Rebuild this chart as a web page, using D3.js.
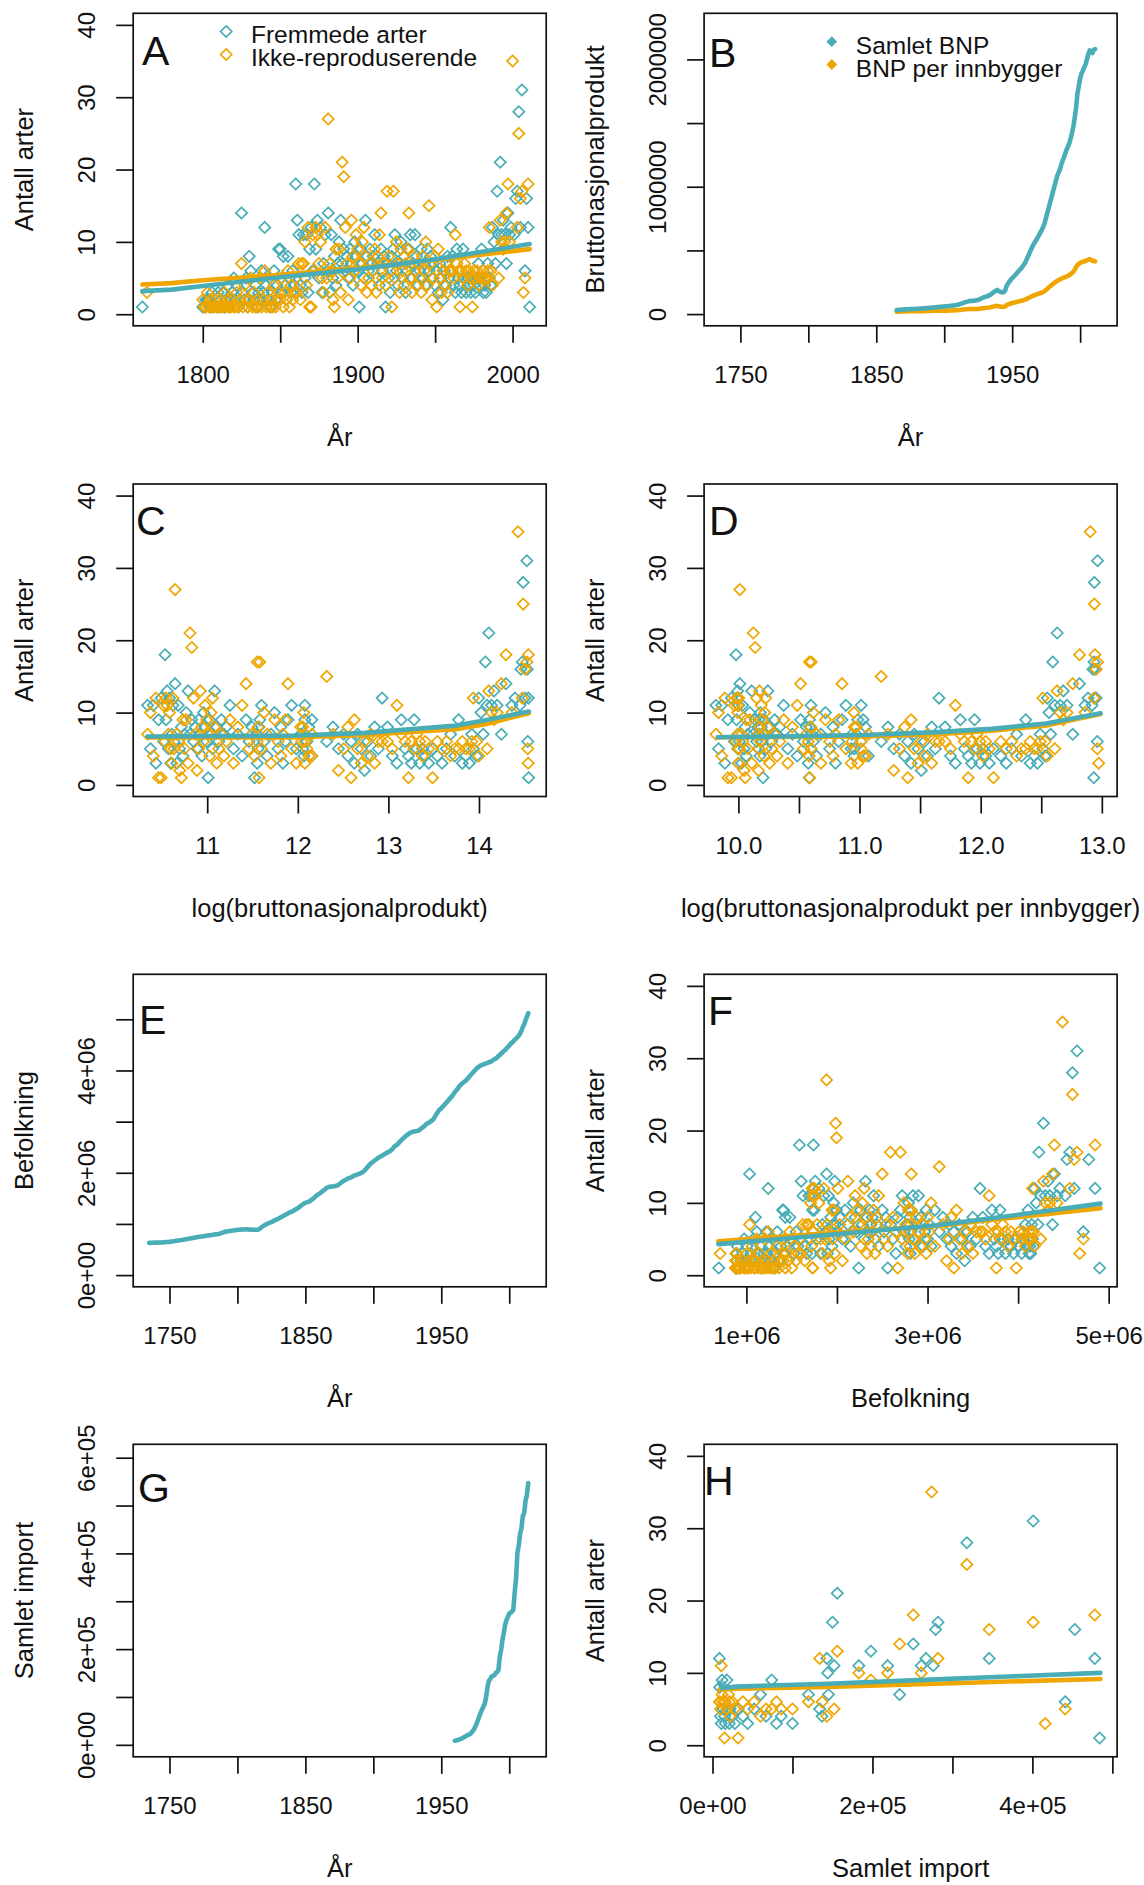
<!DOCTYPE html>
<html>
<head>
<meta charset="utf-8">
<script src="https://cdnjs.cloudflare.com/ajax/libs/d3/7.8.5/d3.min.js"></script>
<style>
  body { margin: 0; background: #fff; }
  svg { display: block; font-family: "Liberation Sans", Arial, sans-serif; }
  text { fill: #111; }
</style>
</head>
<body>
<svg id="fig" width="1144" height="1885"></svg>
<script>
// ---- observations: number of species per year ----
var tidligeAar = [1761, 1764];
var tidligeFremmede = [1, null];
var tidligeIkke = [null, 3];

var startAar = 1800; // fremmede / ikkeRepr run 1800..2011
var fremmede = [
  1,1,2,2,2,1,3,1,2,1, 3,1,2,3,1,2,4,1,2,3, 5,2,4,1,2,14,3,2,5,1, 8,6,3,2,4,1,3,2,6,3,
  12,4,2,5,1,3,6,2,4,9, 9,3,8,4,2,8,5,3,6,4, 18,13,11,4,3,11,5,11,3,9, 12,6,18,9,13,5,12,3,7,11,
  6,14,3,11,5,8,4,7,10,13, 7,9,6,8,5,9,7,4,10,8, 6,1,9,7,5,13,8,6,9,7, 8,11,5,7,4,9,6,8,1,7,
  5,3,8,9,11,6,4,7,10,5, 8,3,6,9,11,5,7,11,8,4, 6,9,5,7,4,9,6,8,5,7, 4,6,3,7,5,2,6,4,8,5,
  12,8,4,3,9,5,4,3,9,5, 3,5,4,3,5,4,3,5,7,4, 9,3,4,3,7,5,4,12,10,7,
  17,11,21,11,13,11,7,14,11,12, null,11,16,17,28,12,31,null,6,16, 12,1
];
var ikkeRepr = [
  2,1,1,3,1,2,1,1,2,1, 1,2,1,1,3,1,2,1,1,2, 1,1,3,1,2,7,1,4,2,1, 2,5,1,3,1,2,1,5,1,2,
  6,1,3,1,2,1,4,1,2,3, 2,5,1,3,2,6,1,4,2,3, 5,3,7,2,7,7,10,4,12,1, 1,11,6,12,11,7,10,5,3,12,
  5,27,7,6,2,1,9,5,9,3, 21,19,12,7,2,5,13,8,6,11, 9,7,4,10,12,8,3,5,7,4, 6,9,3,8,11,14,5,7,4,17,
  8,6,1,17,5,10,7,3,9,6, 4,7,9,14,5,3,8,6,4,7, 5,3,8,6,10,4,15,7,2,5, 8,1,9,5,3,6,4,7,3,6,
  6,6,5,11,7,6,1,6,5,7, 6,4,6,5,1,6,5,6,4,5, 5,6,5,5,6,12,6,4,null,null,
  null,5,13,10,9,10,14,18,10,null, 35,null,null,12,25,16,17,3,5,null, 18,null
];

// ---- yearly background series ----
var befStart = 1735; // befolkning, millioner
var befolkning = [
  0.630,0.630,0.632,0.632,0.634,
  0.634,0.635,0.636,0.636,0.638,0.640,0.642,0.644,0.646,0.648,
  0.650,0.654,0.658,0.662,0.666,0.670,0.674,0.678,0.682,0.686,
  0.690,0.695,0.700,0.705,0.710,0.715,0.720,0.725,0.730,0.735,
  0.740,0.744,0.748,0.752,0.756,0.760,0.764,0.768,0.772,0.776,
  0.780,0.784,0.788,0.792,0.796,0.800,0.804,0.810,0.820,0.830,
  0.840,0.845,0.850,0.855,0.860,0.864,0.868,0.872,0.876,0.880,
  0.883,0.885,0.888,0.890,0.892,0.892,0.893,0.893,0.890,0.888,
  0.888,0.887,0.887,0.886,0.886,0.887,0.900,0.920,0.940,0.960,
  0.975,0.990,1.005,1.015,1.025,1.035,1.050,1.065,1.078,1.090,
  1.100,1.115,1.130,1.145,1.160,1.175,1.190,1.205,1.220,1.230,
  1.240,1.255,1.270,1.285,1.300,1.320,1.340,1.360,1.380,1.400,
  1.410,1.420,1.430,1.440,1.460,1.480,1.500,1.525,1.550,1.570,
  1.585,1.605,1.625,1.645,1.665,1.690,1.710,1.720,1.725,1.730,
  1.732,1.736,1.740,1.750,1.760,1.780,1.800,1.820,1.840,1.855,
  1.870,1.885,1.895,1.905,1.915,1.930,1.945,1.955,1.965,1.975,
  1.985,1.995,2.010,2.030,2.060,2.090,2.120,2.150,2.180,2.200,
  2.220,2.240,2.260,2.280,2.300,2.315,2.330,2.345,2.360,2.375,
  2.390,2.405,2.420,2.440,2.460,2.500,2.520,2.540,2.560,2.590,
  2.620,2.650,2.670,2.700,2.720,2.740,2.760,2.780,2.790,2.800,
  2.805,2.810,2.815,2.820,2.840,2.860,2.880,2.900,2.925,2.950,
  2.970,2.985,3.000,3.020,3.040,3.080,3.130,3.170,3.210,3.240,
  3.260,3.290,3.320,3.350,3.380,3.410,3.440,3.470,3.500,3.540,
  3.580,3.610,3.640,3.680,3.710,3.740,3.760,3.780,3.800,3.830,
  3.860,3.890,3.920,3.950,3.980,4.010,4.040,4.060,4.080,4.100,
  4.110,4.120,4.130,4.140,4.150,4.160,4.170,4.180,4.200,4.220,
  4.230,4.250,4.280,4.300,4.330,4.350,4.380,4.400,4.430,4.460,
  4.490,4.520,4.540,4.570,4.600,4.620,4.650,4.680,4.720,4.780,
  4.850,4.900,4.980,5.050,5.120
];

var bnpStart = 1865; // bruttonasjonalprodukt, 1000 mill. kr
var bnp = [
  31,32,33,34,35,
  36,37,37.6,38,38.5,39,39.5,40,40.5,41,
  41.5,42,42.8,43.5,44.2,45,45.8,46.6,47.5,48.5,
  49.5,50.5,51.5,52.5,53.5,54.5,55.5,56.5,57.5,58.5,
  59.5,60.5,61.5,62.5,63.5,65,66.5,68,70,72,
  74,77,80,84,88,92,95,98,101,104,
  105,104,106,107,109,112,116,121,126,131,
  135,138,142,146,152,160,168,176,184,190,
  180,176,172,170,174,190,224,240,255,270,
  283,293,304,315,328,340,352,364,380,396,
  413,438,462,486,510,532,552,570,588,605,
  625,645,665,690,720,760,800,840,880,920,
  960,1000,1040,1080,1110,1130,1170,1200,1230,1260,
  1290,1315,1340,1380,1420,1470,1540,1620,1730,1790,
  1850,1890,1910,1940,1960,2000,2040,2070,2060,2050,
  2075,2080
];
var bnpPerInnb = [ // 1000 kr, 1865..2011
  18.3,18.7,19.2,19.7,20.2,
  20.8,21.3,21.6,21.7,21.9,21.9,21.9,22.0,22.0,22.1,
  22.2,22.3,22.6,22.8,23.1,23.3,23.5,23.8,24.2,24.6,
  24.9,25.3,25.6,25.9,26.0,26.1,26.2,26.3,26.4,26.6,
  26.8,27.0,27.2,27.4,27.6,28.1,28.5,29.0,29.7,30.3,
  31.0,32.0,33.1,34.4,35.8,36.8,37.7,38.6,39.5,40.2,
  40.1,39.2,39.7,39.6,40.1,40.9,42.0,43.5,45.2,46.8,
  48.1,49.1,50.4,51.8,53.5,55.9,58.3,60.7,62.9,64.4,
  60.6,59.0,57.3,56.3,57.2,61.7,71.6,75.7,79.4,83.3,
  86.8,89.1,91.6,94.0,97.0,99.7,102.3,104.9,108.6,111.9,
  115.4,121.3,126.9,132.1,137.5,142.2,146.8,150.8,154.7,158.0,
  161.9,165.8,169.6,174.7,180.9,192,201,210,219,228,
  236,245,253,260,266,272,277,282,286,290,
  295,300,306,314,322,332,348,368,385,395,
  402,408,411,415,416,422,427,431,426,419,
  418,414
];

var impStart = 1960; // samlet import, 1000 kr
var importSamlet = [
  8.7,9,10,11,12,13,15,16,18,20,
  21,22,25,28,32,38,44,52,60,67,
  74,80,86,100,120,134,137,143,144,145,
  150,152,156,183,198,219,234,251,261,267,
  274,276,279,282,318,346,401,416,441,453,
  478,484,510,522,547
];

// ---- fitted curves ----
var fitAarX = [1761, 1780, 1800, 1850, 1900, 1950, 2011];
var fitAarFremmede = [3.2, 3.4, 3.9, 5.1, 6.2, 7.6, 9.7];
var fitAarIkke = [4.1, 4.3, 4.7, 5.45, 6.4, 7.5, 9.0];

var fitBnpX = [10.34, 11.0, 11.93, 12.74, 13.34, 13.75, 14.07, 14.55];
var fitBnpFremmede = [6.7, 6.75, 6.8, 7.2, 7.8, 8.2, 8.95, 10.15];
var fitBnpIkke = [6.55, 6.55, 6.55, 6.9, 7.4, 7.7, 8.4, 9.9];

var fitPerX = [9.83, 10.5, 11.04, 11.64, 12.09, 12.54, 12.99];
var fitPerFremmede = [6.6, 6.75, 6.9, 7.3, 7.75, 8.5, 9.9];
var fitPerIkke = [6.6, 6.65, 6.7, 7.0, 7.5, 8.2, 9.8];

var fitBefX = [0.69, 1.89, 3.1, 3.9, 4.91];
var fitBefFremmede = [4.3, 5.55, 6.9, 8.2, 9.9];
var fitBefIkke = [4.7, 5.8, 6.8, 7.9, 9.25];

var fitImpX = [0.087, 0.12, 0.3, 1.44, 2.8, 3.7, 4.85];
var fitImpFremmede = [8.6, 7.9, 8.1, 8.5, 9.1, 9.5, 10.0];
var fitImpIkke = [7.7, 7.7, 7.8, 8.05, 8.5, 8.8, 9.15];

// ---- ticks ----
var antallTicks = [0, 10, 20, 30, 40];
var antallTekster = ["0", "10", "20", "30", "40"];
var aarTicksA = [1800, 1850, 1900, 1950, 2000];
var aarTeksterA = ["1800", "", "1900", "", "2000"];
var aarTicks = [1750, 1800, 1850, 1900, 1950, 2000];
var aarTekster = ["1750", "", "1850", "", "1950", ""];
var bnpYTicks = [0, 500000, 1000000, 1500000, 2000000];
var bnpYTekster = ["0", "", "1000000", "", "2000000"];
var logBnpTicks = [11, 12, 13, 14];
var logBnpTekster = ["11", "12", "13", "14"];
var logPerTicks = [10, 10.5, 11, 11.5, 12, 12.5, 13];
var logPerTekster = ["10.0", "", "11.0", "", "12.0", "", "13.0"];
var befYTicks = [0, 1e6, 2e6, 3e6, 4e6, 5e6];
var befYTekster = ["0e+00", "", "2e+06", "", "4e+06", ""];
var befXTicks = [1e6, 2e6, 3e6, 4e6, 5e6];
var befXTekster = ["1e+06", "", "3e+06", "", "5e+06"];
var impYTicks = [0, 1e5, 2e5, 3e5, 4e5, 5e5, 6e5];
var impYTekster = ["0e+00", "", "2e+05", "", "4e+05", "", "6e+05"];
var impXTicks = [0, 1e5, 2e5, 3e5, 4e5, 5e5];
var impXTekster = ["0e+00", "", "2e+05", "", "4e+05", ""];

var TEAL = "#48adb6", ORANSJE = "#efa600";
var W = 413, H = 312.5;
var VENSTRE = [133.2, 704.1];
var TOPP = [13.3, 484, 974.3, 1444.3];
var antallDomene = [-1.6, 41.6];
var aarDomene = [1723.3, 2027.2];
var PUNKT = 5.6;

var svg = d3.select("#fig");

function verdiFor(serie, start, aar) {
  var i = aar - start;
  return (i >= 0 && i < serie.length) ? serie[i] : null;
}

var obs = [];
tidligeAar.forEach(function(a, i) {
  obs.push({ aar: a, fremmede: tidligeFremmede[i], ikke: tidligeIkke[i] });
});
fremmede.forEach(function(v, i) {
  obs.push({ aar: startAar + i, fremmede: v, ikke: ikkeRepr[i] });
});

function diamant(s) {
  return "M0," + (-s) + "L" + s + ",0L0," + s + "L" + (-s) + ",0Z";
}

function lagPanel(p) {
  var g = svg.append("g");
  var left = VENSTRE[p.kol], top = TOPP[p.rad];
  var x = d3.scaleLinear().domain(p.xDomene).range([left, left + W]);
  var y = d3.scaleLinear().domain(p.yDomene).range([top + H, top]);

  var gx = g.append("g")
    .attr("transform", "translate(0," + (top + H) + ")")
    .call(d3.axisBottom(x).tickValues(p.xTicks).tickSize(17)
      .tickFormat(function(d, i) { return p.xTekster[i]; }));
  var gy = g.append("g")
    .attr("transform", "translate(" + left + ",0)")
    .call(d3.axisLeft(y).tickValues(p.yTicks).tickSize(17)
      .tickFormat(function(d, i) { return p.yTekster[i]; }));
  [gx, gy].forEach(function(a) {
    a.attr("font-size", null).attr("font-family", null);
    a.select(".domain").remove();
    a.selectAll(".tick line").attr("stroke", "#111").attr("stroke-width", 1.7);
    a.selectAll("text").style("font-size", "24px").attr("fill", "#111");
  });
  gx.selectAll("text").attr("y", 57).attr("dy", null);
  gy.selectAll("text").attr("transform", "rotate(-90)")
    .attr("x", 0).attr("y", -38).attr("dy", null).attr("text-anchor", "middle");

  g.append("text").attr("x", left + W / 2).attr("y", top + H + 120)
    .attr("text-anchor", "middle").style("font-size", "25.5px").text(p.xTittel);
  g.append("text")
    .attr("transform", "translate(" + (left - 100) + "," + (top + H / 2) + ") rotate(-90)")
    .attr("text-anchor", "middle").style("font-size", "25.5px").text(p.yTittel);

  g.append("text").attr("x", p.bokstavX).attr("y", p.bokstavY)
    .style("font-size", "41px").text(p.bokstav);

  var plot = g.append("g");
  if (p.punkter) {
    [["fremmede", TEAL], ["ikke", ORANSJE]].forEach(function(s) {
      var data = obs.filter(function(d) { return d[s[0]] != null && p.punkter(d) != null; });
      plot.selectAll(null).data(data).enter().append("path")
        .attr("d", diamant(PUNKT))
        .attr("transform", function(d) { return "translate(" + x(p.punkter(d)) + "," + y(d[s[0]]) + ")"; })
        .attr("fill", "none").attr("stroke", s[1]).attr("stroke-width", 1.7);
    });
  }
  var linje = d3.line().x(function(d) { return x(d[0]); }).y(function(d) { return y(d[1]); });
  p.linjer.forEach(function(l) {
    var pts = l.x.map(function(v, i) { return [v, l.y[i]]; })
      .filter(function(d) { return d[1] != null; });
    plot.append("path").attr("d", linje(pts)).attr("fill", "none")
      .attr("stroke", l.farge).attr("stroke-width", 4.6)
      .attr("stroke-linejoin", "round").attr("stroke-linecap", "round");
  });

  g.append("rect").attr("x", left).attr("y", top).attr("width", W).attr("height", H)
    .attr("fill", "none").attr("stroke", "#111").attr("stroke-width", 1.7);
  return { x: x, y: y };
}

function aarListe(start, serie) {
  return serie.map(function(v, i) { return start + i; });
}
function skaler(serie, f) {
  return serie.map(function(v) { return v * f; });
}

// A
lagPanel({
  kol: 0, rad: 0, xDomene: [1755.1, 2021.7], yDomene: antallDomene,
  xTicks: aarTicksA, xTekster: aarTeksterA, yTicks: antallTicks, yTekster: antallTekster,
  xTittel: "År", yTittel: "Antall arter", bokstav: "A", bokstavX: 142, bokstavY: 65,
  punkter: function(d) { return d.aar; },
  linjer: [
    { x: fitAarX, y: fitAarIkke, farge: ORANSJE },
    { x: fitAarX, y: fitAarFremmede, farge: TEAL }
  ]
});
var legA = svg.append("g");
[["Fremmede arter", TEAL, 31.5, 42.5], ["Ikke-reproduserende", ORANSJE, 54.5, 66]].forEach(function(l) {
  legA.append("path").attr("d", diamant(PUNKT)).attr("transform", "translate(226.2," + l[2] + ")")
    .attr("fill", "none").attr("stroke", l[1]).attr("stroke-width", 1.7);
  legA.append("text").attr("x", 251).attr("y", l[3]).style("font-size", "24.5px").text(l[0]);
});

// B
lagPanel({
  kol: 1, rad: 0, xDomene: aarDomene, yDomene: [-92000, 2362000],
  xTicks: aarTicks, xTekster: aarTekster, yTicks: bnpYTicks, yTekster: bnpYTekster,
  xTittel: "År", yTittel: "Bruttonasjonalprodukt", bokstav: "B", bokstavX: 709, bokstavY: 66.7,
  linjer: [
    { x: aarListe(bnpStart, bnpPerInnb), y: skaler(bnpPerInnb, 1000), farge: ORANSJE },
    { x: aarListe(bnpStart, bnp), y: skaler(bnp, 1000), farge: TEAL }
  ]
});
var legB = svg.append("g");
[["Samlet BNP", TEAL, 41.7, 53.5], ["BNP per innbygger", ORANSJE, 64.5, 77]].forEach(function(l) {
  legB.append("path").attr("d", diamant(5.4)).attr("transform", "translate(831.8," + l[2] + ")")
    .attr("fill", l[1]);
  legB.append("text").attr("x", 855.8).attr("y", l[3]).style("font-size", "24.5px").text(l[0]);
});

// C
lagPanel({
  kol: 0, rad: 1, xDomene: [10.183, 14.742], yDomene: antallDomene,
  xTicks: logBnpTicks, xTekster: logBnpTekster, yTicks: antallTicks, yTekster: antallTekster,
  xTittel: "log(bruttonasjonalprodukt)", yTittel: "Antall arter", bokstav: "C", bokstavX: 136, bokstavY: 535,
  punkter: function(d) {
    var v = verdiFor(bnp, bnpStart, d.aar);
    return v == null ? null : Math.log(v * 1000);
  },
  linjer: [
    { x: fitBnpX, y: fitBnpIkke, farge: ORANSJE },
    { x: fitBnpX, y: fitBnpFremmede, farge: TEAL }
  ]
});

// D
lagPanel({
  kol: 1, rad: 1, xDomene: [9.717, 13.126], yDomene: antallDomene,
  xTicks: logPerTicks, xTekster: logPerTekster, yTicks: antallTicks, yTekster: antallTekster,
  xTittel: "log(bruttonasjonalprodukt per innbygger)", yTittel: "Antall arter",
  bokstav: "D", bokstavX: 709, bokstavY: 535,
  punkter: function(d) {
    var v = verdiFor(bnpPerInnb, bnpStart, d.aar);
    return v == null ? null : Math.log(v * 1000);
  },
  linjer: [
    { x: fitPerX, y: fitPerIkke, farge: ORANSJE },
    { x: fitPerX, y: fitPerFremmede, farge: TEAL }
  ]
});

// E
lagPanel({
  kol: 0, rad: 2, xDomene: aarDomene, yDomene: [-229000, 5880000],
  xTicks: aarTicks, xTekster: aarTekster, yTicks: befYTicks, yTekster: befYTekster,
  xTittel: "År", yTittel: "Befolkning", bokstav: "E", bokstavX: 139, bokstavY: 1034,
  linjer: [{ x: aarListe(befStart, befolkning), y: skaler(befolkning, 1e6), farge: TEAL }]
});

// F
lagPanel({
  kol: 1, rad: 2, xDomene: [533000, 5093000], yDomene: antallDomene,
  xTicks: befXTicks, xTekster: befXTekster, yTicks: antallTicks, yTekster: antallTekster,
  xTittel: "Befolkning", yTittel: "Antall arter", bokstav: "F", bokstavX: 708, bokstavY: 1025,
  punkter: function(d) {
    var v = verdiFor(befolkning, befStart, d.aar);
    return v == null ? null : v * 1e6;
  },
  linjer: [
    { x: skaler(fitBefX, 1e6), y: fitBefIkke, farge: ORANSJE },
    { x: skaler(fitBefX, 1e6), y: fitBefFremmede, farge: TEAL }
  ]
});

// G
lagPanel({
  kol: 0, rad: 3, xDomene: aarDomene, yDomene: [-25000, 628000],
  xTicks: aarTicks, xTekster: aarTekster, yTicks: impYTicks, yTekster: impYTekster,
  xTittel: "År", yTittel: "Samlet import", bokstav: "G", bokstavX: 138, bokstavY: 1502,
  linjer: [{ x: aarListe(impStart, importSamlet), y: skaler(importSamlet, 1000), farge: TEAL }]
});

// H
lagPanel({
  kol: 1, rad: 3, xDomene: [-10500, 505900], yDomene: antallDomene,
  xTicks: impXTicks, xTekster: impXTekster, yTicks: antallTicks, yTekster: antallTekster,
  xTittel: "Samlet import", yTittel: "Antall arter", bokstav: "H", bokstavX: 704, bokstavY: 1495,
  punkter: function(d) {
    var v = verdiFor(importSamlet, impStart, d.aar);
    return v == null ? null : v * 1000;
  },
  linjer: [
    { x: skaler(fitImpX, 1e5), y: fitImpIkke, farge: ORANSJE },
    { x: skaler(fitImpX, 1e5), y: fitImpFremmede, farge: TEAL }
  ]
});
</script>
</body>
</html>
